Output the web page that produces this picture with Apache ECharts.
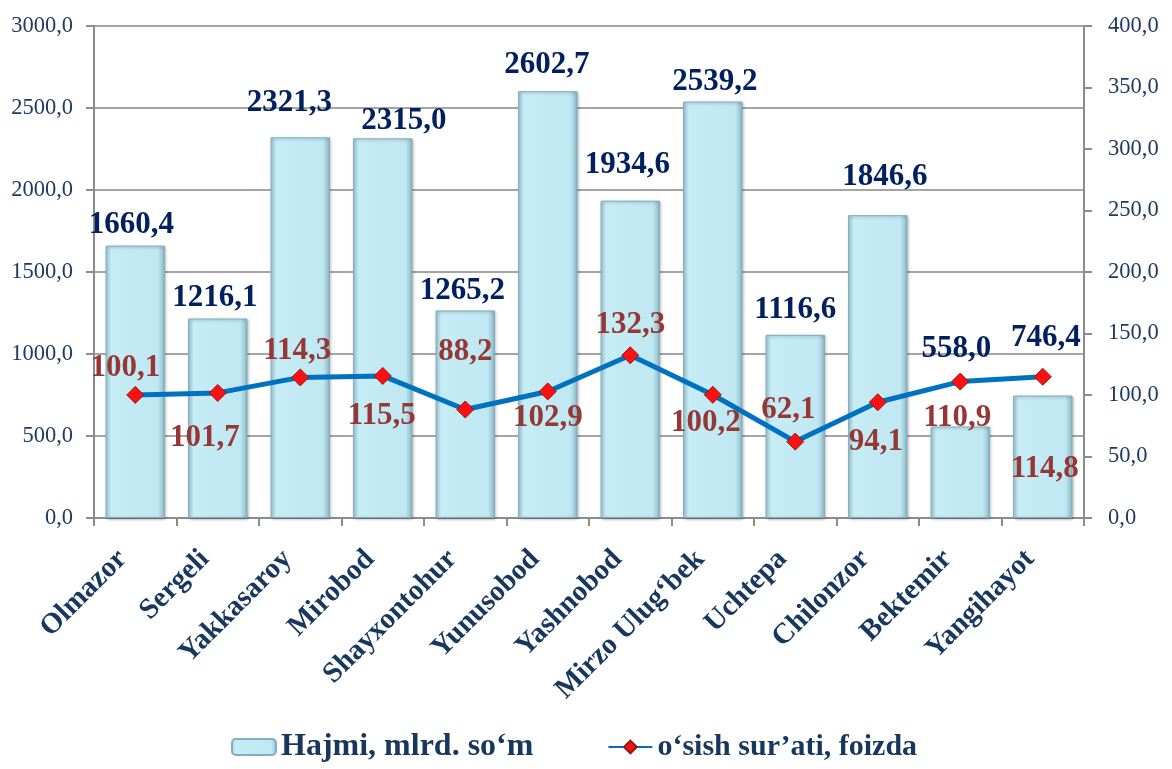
<!DOCTYPE html>
<html>
<head>
<meta charset="utf-8">
<script src="https://cdn.jsdelivr.net/npm/echarts@6/dist/echarts.min.js"></script>
<style>
  html, body { margin: 0; padding: 0; background: #fff; }
  #chart { width: 1172px; height: 769px; }
</style>
</head>
<body>
<div id="chart"></div>
<script>
// tumanlar
const districts = ['Olmazor', 'Sergeli', 'Yakkasaroy', 'Mirobod', 'Shayxontohur', 'Yunusobod',
  'Yashnobod', 'Mirzo Ulug‘bek', 'Uchtepa', 'Chilonzor', 'Bektemir', 'Yangihayot']
// hajmi, mlrd. so'm
const volume = [1660.4, 1216.1, 2321.3, 2315.0, 1265.2, 2602.7, 1934.6, 2539.2, 1116.6, 1846.6, 558.0, 746.4]
// o'sish sur'ati, foizda
const growth = [100.1, 101.7, 114.3, 115.5, 88.2, 102.9, 132.3, 100.2, 62.1, 94.1, 110.9, 114.8]

// label nudges (placement only, not data)
const volumeLabelOffsets = [[-4, -4], [-3, -4], [-11, -18], [21, -1], [-3, -3], [-1, -10],
  [-3, -19], [2, -3], [0, -8], [7, -22], [-4, -61], [3, -41]]
const growthLabelOffsets = [[-10, -27], [-13, 45], [-3, -26], [-1, 40], [0, -58], [0, 27], [0, -30],
  [-7, 28], [-7, -32], [-2, 40], [-3, 36], [2, 92]]

const serif = '"Liberation Serif", "Times New Roman", serif'
const fmt = v => Number(v).toFixed(1).replace('.', ',')

const chart = echarts.init(document.getElementById('chart'))

const barFill = new echarts.graphic.LinearGradient(0, 0, 1, 0, [
  { offset: 0, color: '#a3d0dc' },
  { offset: 0.1, color: '#c6ecf5' },
  { offset: 0.88, color: '#c0e8f2' },
  { offset: 1, color: '#88b8c7' }
])

const legendText = { fontFamily: serif, fontWeight: 'bold', color: '#17375e' }

const option = {
  animation: false,
  textStyle: { fontFamily: serif },
  grid: { left: 94, right: 88, top: 26, bottom: 251 },
  legend: {
    bottom: 1,
    left: 226,
    itemGap: 74,
    itemWidth: 44,
    itemHeight: 16,
    textStyle: Object.assign({ fontSize: 32 }, legendText),
    data: [
      { name: 'Hajmi, mlrd. so‘m' },
      { name: 'o‘sish sur’ati, foizda', textStyle: Object.assign({ fontSize: 30 }, legendText) }
    ]
  },
  xAxis: {
    type: 'category',
    data: districts,
    axisLine: { lineStyle: { color: '#8c8c8c', width: 2 } },
    axisTick: { show: true, length: 8, lineStyle: { color: '#8c8c8c', width: 2 } },
    axisLabel: {
      rotate: 45,
      interval: 0,
      margin: 24,
      padding: [0, 18, 0, 0],
      fontFamily: serif,
      fontSize: 29,
      fontWeight: 'bold',
      color: '#17375e'
    }
  },
  yAxis: [
    {
      type: 'value',
      min: 0,
      max: 3000,
      interval: 500,
      axisLine: { show: true, lineStyle: { color: '#8c8c8c', width: 2 } },
      axisTick: { show: true, length: 8, lineStyle: { color: '#8c8c8c', width: 2 } },
      splitLine: { lineStyle: { color: '#878787', width: 1.5 } },
      axisLabel: { formatter: fmt, fontFamily: serif, fontSize: 22.5, color: '#1f3a60', margin: 21 }
    },
    {
      type: 'value',
      min: 0,
      max: 400,
      interval: 50,
      position: 'right',
      axisLine: { show: true, lineStyle: { color: '#8c8c8c', width: 2 } },
      axisTick: { show: true, length: 8, lineStyle: { color: '#8c8c8c', width: 2 } },
      splitLine: { show: false },
      axisLabel: { formatter: fmt, fontFamily: serif, fontSize: 22.5, color: '#1f3a60', margin: 24 }
    }
  ],
  series: [
    {
      name: 'Hajmi, mlrd. so‘m',
      type: 'bar',
      barWidth: '72%',
      data: volume.map((v, i) => ({
        value: v,
        label: { offset: volumeLabelOffsets[i] }
      })),
      itemStyle: {
        color: barFill,
        borderColor: '#80aebd',
        borderWidth: 1,
        shadowColor: 'rgba(0,0,0,0.3)',
        shadowBlur: 3,
        shadowOffsetX: 1,
        shadowOffsetY: 1
      },
      label: {
        show: true,
        position: 'top',
        distance: 1,
        formatter: p => fmt(p.value),
        fontFamily: serif,
        fontSize: 31,
        fontWeight: 'bold',
        color: '#002060'
      }
    },
    {
      name: 'o‘sish sur’ati, foizda',
      type: 'line',
      yAxisIndex: 1,
      data: growth.map((v, i) => ({
        value: v,
        label: { offset: growthLabelOffsets[i] }
      })),
      symbol: 'diamond',
      symbolSize: 17,
      lineStyle: { color: '#0070c0', width: 5 },
      itemStyle: { color: '#ff1010', borderColor: '#8b1a1a', borderWidth: 1 },
      label: {
        show: true,
        position: 'inside',
        formatter: p => fmt(p.value),
        fontFamily: serif,
        fontSize: 31,
        fontWeight: 'bold',
        color: '#953735'
      },
      z: 5
    }
  ]
}

chart.setOption(option)
</script>
</body>
</html>
